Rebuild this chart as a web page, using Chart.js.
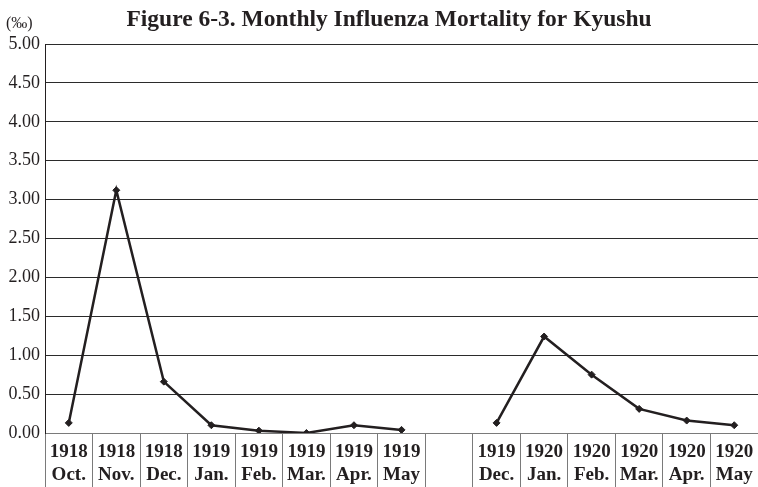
<!DOCTYPE html>
<html>
<head>
<meta charset="utf-8">
<script src="https://cdn.jsdelivr.net/npm/chart.js@4"></script>
<style>
  html, body { margin: 0; padding: 0; background: #fff; }
  #wrap { width: 758px; height: 487px; }
</style>
</head>
<body>
<div id="wrap"><canvas id="c" width="758" height="487"></canvas></div>
<script>
const years = ['1918', '1918', '1918', '1919', '1919', '1919', '1919', '1919', '', '1919', '1920', '1920', '1920', '1920', '1920'];
const months = ['Oct.', 'Nov.', 'Dec.', 'Jan.', 'Feb.', 'Mar.', 'Apr.', 'May', '', 'Dec.', 'Jan.', 'Feb.', 'Mar.', 'Apr.', 'May'];
const mortality = [0.13, 3.12, 0.66, 0.10, 0.03, 0.00, 0.10, 0.04, null, 0.13, 1.24, 0.75, 0.31, 0.16, 0.10];
const yTicks = [0, 0.5, 1, 1.5, 2, 2.5, 3, 3.5, 4, 4.5, 5];

const TITLE = 'Figure 6-3. Monthly Influenza Mortality for Kyushu';
const UNIT = '(‰)';
const SERIF = '"Liberation Serif", "DejaVu Serif", serif';
const INK = '#231f20', GRID = '#2b2b2b', DIV = '#7a7a7a';

const labels = years.map((y, i) => [y, months[i]]);

const headerPlugin = {
    id: 'header',
    afterDraw(chart) {
        const ctx = chart.ctx;
        ctx.save();
        ctx.fillStyle = INK;
        ctx.textBaseline = 'alphabetic';
        ctx.textAlign = 'center';
        ctx.font = 'bold 23.5px ' + SERIF;
        ctx.fillText(TITLE, 389, 26);
        ctx.textAlign = 'left';
        ctx.font = '16px ' + SERIF;
        ctx.fillText(UNIT, 6, 28);
        ctx.restore();
    }
};

new Chart(document.getElementById('c'), {
    type: 'line',
    data: {
        labels,
        datasets: [{
            data: mortality,
            borderColor: INK,
            backgroundColor: INK,
            borderWidth: 2.5,
            tension: 0,
            spanGaps: false,
            pointStyle: 'rectRot',
            pointRadius: 3.5,
            pointBackgroundColor: INK,
            pointBorderColor: INK,
            pointBorderWidth: 1
        }]
    },
    options: {
        responsive: false,
        animation: false,
        layout: { autoPadding: false, padding: { top: 44, left: 0, right: 0, bottom: 0 } },
        plugins: { legend: { display: false }, tooltip: { enabled: false } },
        scales: {
            x: {
                offset: true,
                afterFit: s => { s.height = 54; },
                border: { color: DIV, width: 1 },
                grid: { offset: true, drawOnChartArea: false, drawTicks: true, tickLength: 54, tickColor: DIV, tickWidth: 1 },
                ticks: {
                    autoSkip: false, maxRotation: 0, minRotation: 0,
                    padding: -46, color: INK,
                    font: { family: SERIF, size: 19, weight: 'bold', lineHeight: 1.2 }
                }
            },
            y: {
                min: 0, max: 5,
                afterFit: s => { s.width = 45; },
                afterBuildTicks: s => { s.ticks = yTicks.map(v => ({ value: v })); },
                border: { color: INK, width: 1 },
                grid: { color: GRID, lineWidth: 1, drawTicks: false },
                ticks: {
                    padding: 5, color: INK,
                    font: { family: SERIF, size: 18 },
                    callback: v => Number(v).toFixed(2)
                }
            }
        }
    },
    plugins: [headerPlugin]
});
</script>
</body>
</html>
